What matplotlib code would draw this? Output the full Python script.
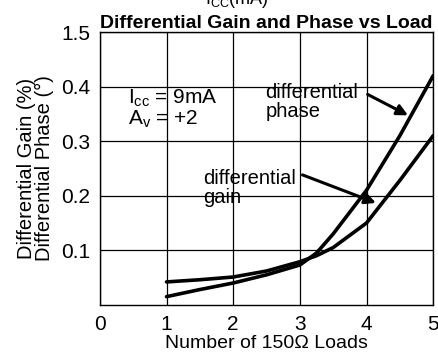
import matplotlib.pyplot as plt

plt.rcParams['font.family'] = ['Liberation Sans', 'DejaVu Sans']
plt.rcParams['mathtext.fontset'] = 'custom'
plt.rcParams['mathtext.rm'] = 'Liberation Sans'

# number of 150 ohm loads
loads = [1, 1.5, 2, 2.5, 3, 3.25, 3.5, 4, 4.5, 5]
# differential phase (deg)
diff_phase = [0.015, 0.028, 0.040, 0.055, 0.073, 0.095, 0.13, 0.21, 0.31, 0.42]
# differential gain (%)
diff_gain = [0.042, 0.046, 0.051, 0.062, 0.079, 0.09, 0.105, 0.15, 0.228, 0.31]

x_ticks = [0, 1, 2, 3, 4, 5]
y_ticks = [0.1, 0.2, 0.3, 0.4, 0.5]
y_tick_labels = ['0.1', '0.2', '0.3', '0.4', '1.5']

fig = plt.figure(figsize=(4.38, 3.52), dpi=100)
ax = fig.add_axes([0.228, 0.134, 0.761, 0.775])

ax.plot(loads, diff_phase, color='black', lw=2.6, solid_capstyle='round')
ax.plot(loads, diff_gain, color='black', lw=2.6, solid_capstyle='round')

ax.set_xlim(0, 5)
ax.set_ylim(0, 0.5)
ax.set_xticks(x_ticks)
ax.set_yticks(y_ticks)
ax.set_yticklabels(y_tick_labels)
ax.tick_params(length=0, labelsize=15, pad=7)
ax.grid(True, color='black', lw=0.9)
for s in ax.spines.values():
    s.set_linewidth(1.0)

ax.set_xlabel('Number of 150\u03a9 Loads', fontsize=14, labelpad=1)
ax.set_ylabel('Differential Gain (%)\nDifferential Phase (\u00b0)', fontsize=14.5,
              labelpad=5, linespacing=0.95)
ax.set_title('Differential Gain and Phase vs Load', fontsize=14,
             fontweight='bold', pad=3)
fig.text(0.54, 1.0, r'$\mathrm{I_{CC}}$(mA)', fontsize=13, ha='center', va='center')

ax.text(0.42, 0.378, r'$\mathrm{I_{cc}}$ = 9mA', fontsize=15, va='center')
ax.text(0.42, 0.34, r'$\mathrm{A_v}$ = +2', fontsize=15, va='center')

ax.text(2.48, 0.372, 'differential\nphase', fontsize=14.5, va='center',
        linespacing=1.0)
ax.annotate('', xy=(4.66, 0.345), xytext=(3.98, 0.388),
            arrowprops=dict(arrowstyle='-|>', color='black', lw=2.2,
                            mutation_scale=16))
ax.text(1.55, 0.215, 'differential\ngain', fontsize=14.5, va='center',
        linespacing=1.0)
ax.annotate('', xy=(4.18, 0.185), xytext=(3.0, 0.24),
            arrowprops=dict(arrowstyle='-|>', color='black', lw=2.2,
                            mutation_scale=16))

fig.savefig('out.png', dpi=100)
